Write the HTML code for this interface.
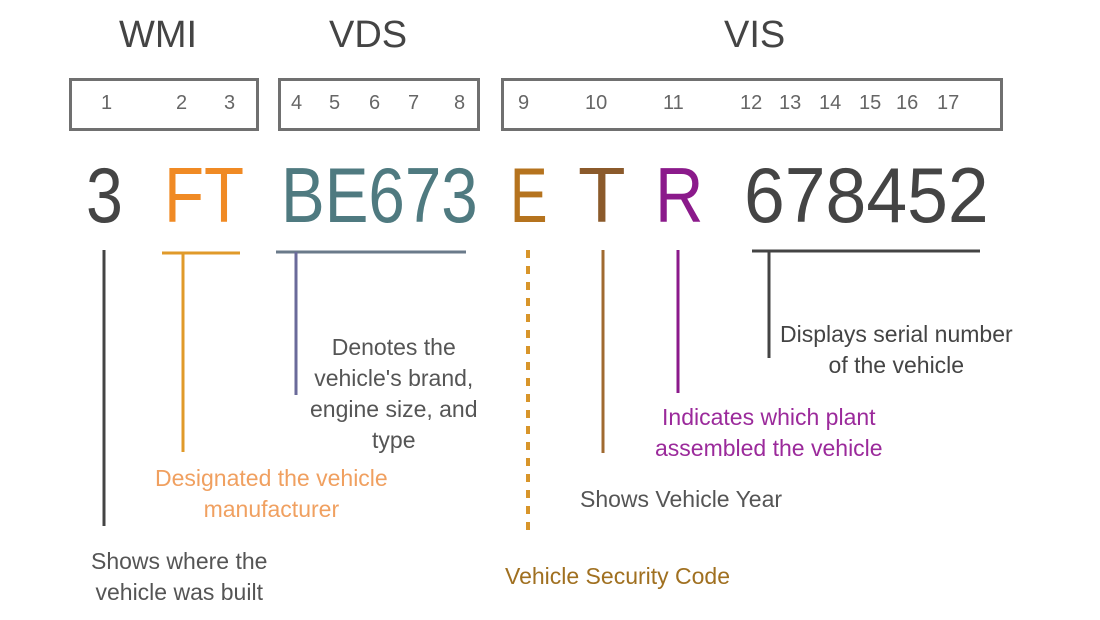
<!DOCTYPE html>
<html><head><style>
body{margin:0;width:1100px;height:620px;background:#fff;overflow:hidden;position:relative;font-family:"Liberation Sans",sans-serif;}
.a{position:absolute;white-space:nowrap;}
.h{font-size:38px;color:#444;top:14px;}
.box{position:absolute;border:3px solid #707070;top:78px;box-sizing:border-box;height:53px;}
.n{font-size:20px;color:#666;top:92px;}
.big{font-size:78px;top:150px;transform-origin:0 0;line-height:90px;}
.l{position:absolute;}
.t{font-size:23px;text-align:center;line-height:31px;}
</style></head><body>
<div class="a h" style="left:119px">WMI</div>
<div class="a h" style="left:329px">VDS</div>
<div class="a h" style="left:724px">VIS</div>
<div class="box" style="left:69px;width:190px"></div>
<div class="box" style="left:278px;width:202px"></div>
<div class="box" style="left:501px;width:502px"></div>
<div class="a n" style="left:101px">1</div>
<div class="a n" style="left:176px">2</div>
<div class="a n" style="left:224px">3</div>
<div class="a n" style="left:291px">4</div>
<div class="a n" style="left:329px">5</div>
<div class="a n" style="left:369px">6</div>
<div class="a n" style="left:408px">7</div>
<div class="a n" style="left:454px">8</div>
<div class="a n" style="left:518px">9</div>
<div class="a n" style="left:585px">10</div>
<div class="a n" style="left:663px">11</div>
<div class="a n" style="left:740px">12</div>
<div class="a n" style="left:779px">13</div>
<div class="a n" style="left:819px">14</div>
<div class="a n" style="left:859px">15</div>
<div class="a n" style="left:896px">16</div>
<div class="a n" style="left:937px">17</div>
<div class="a big" style="left:86px;color:#444;transform:scaleX(0.85)">3</div>
<div class="a big" style="left:164px;color:#f08a24;transform:scaleX(0.84)">FT</div>
<div class="a big" style="left:281px;color:#4f7a80;transform:scaleX(0.84)">BE673</div>
<div class="a big" style="left:510px;color:#b5731e;transform:scaleX(0.72)">E</div>
<div class="a big" style="left:578px;color:#8b5a2b;transform:scaleX(1)">T</div>
<div class="a big" style="left:655px;color:#8b1a8b;transform:scaleX(0.86)">R</div>
<div class="a big" style="left:744px;color:#444;transform:scaleX(0.94)">678452</div>
<svg class="l" style="left:0;top:0" width="1100" height="620">
<g stroke-width="3" fill="none">
<line x1="104" y1="250" x2="104" y2="526" stroke="#444"/>
<line x1="162" y1="253" x2="240" y2="253" stroke="#e09a2a"/>
<line x1="183" y1="253" x2="183" y2="452" stroke="#e09a2a"/>
<line x1="276" y1="252" x2="466" y2="252" stroke="#6a7a8a"/>
<line x1="296" y1="252" x2="296" y2="395" stroke="#6a6a9a"/>
<line x1="528" y1="250" x2="528" y2="536" stroke="#d8952a" stroke-width="4" stroke-dasharray="8,8"/>
<line x1="603" y1="250" x2="603" y2="453" stroke="#a06a30"/>
<line x1="678" y1="250" x2="678" y2="393" stroke="#8b1a8b"/>
<line x1="752" y1="251" x2="980" y2="251" stroke="#444"/>
<line x1="769" y1="251" x2="769" y2="358" stroke="#444"/>
</g></svg>
<div class="a t" style="left:310px;top:332px;color:#555">Denotes the<br>vehicle's brand,<br>engine size, and<br>type</div>
<div class="a t" style="left:780px;top:319px;color:#444">Displays serial number<br>of the vehicle</div>
<div class="a t" style="left:655px;top:402px;color:#9b2a9b">Indicates which plant<br>assembled the vehicle</div>
<div class="a t" style="left:580px;top:484px;color:#555">Shows Vehicle Year</div>
<div class="a t" style="left:155px;top:463px;color:#f0a060">Designated the vehicle<br>manufacturer</div>
<div class="a t" style="left:91px;top:546px;color:#555">Shows where the<br>vehicle was built</div>
<div class="a t" style="left:505px;top:561px;color:#a07020">Vehicle Security Code</div>
</body></html>
